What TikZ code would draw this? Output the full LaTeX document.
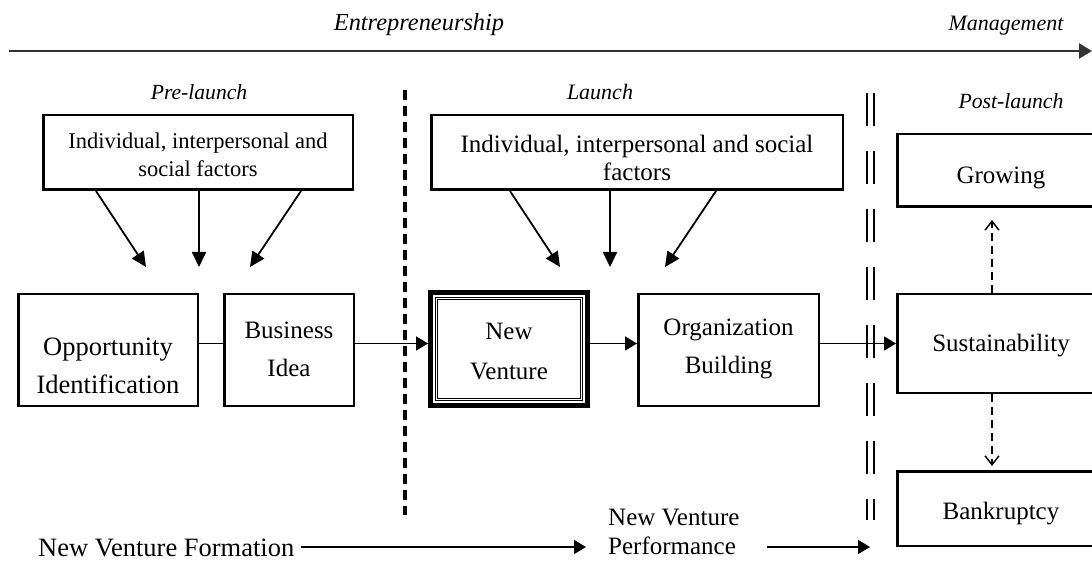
\documentclass[tikz,border=0pt]{standalone}
\usepackage{fontspec}
\setmainfont{Liberation Serif}
\usetikzlibrary{arrows.meta,calc}
\begin{document}
\begin{tikzpicture}[x=1pt,y=-1pt,
  box/.style={draw,line width=2.5pt,inner sep=0pt,align=center,font=\fontsize{25}{38}\selectfont},
  lbl/.style={inner sep=0pt,align=center,font=\fontsize{25}{38}\selectfont},
  ital/.style={inner sep=0pt,font=\itshape\fontsize{22}{26}\selectfont},
  farr/.style={line width=1.8pt,-{Triangle[length=15pt,width=14pt]}},
  harr/.style={line width=1.8pt,-{Triangle[length=12pt,width=14pt]}},
  darr/.style={line width=1.5pt,dash pattern=on 8pt off 5pt,-{Straight Barb[length=9pt,width=14pt,line width=1.5pt]}},
]
\useasboundingbox (0,0) rectangle (1092,561);
\clip (0,0) rectangle (1092,561);

% top timeline
\coordinate (tl0) at (9,51);
\coordinate (tl1) at (1092,51);
\draw[line width=2.2pt,black!80,-{Triangle[length=13pt,width=15pt]}] (tl0) -- (tl1);
\node[ital,font=\itshape\fontsize{24.4}{28}\selectfont] (ent) at (419,25) {Entrepreneurship};
\node[ital] (mgt) at (1006,26) {Management};

% phase labels
\node[ital,font=\itshape\fontsize{21.6}{26}\selectfont] (pre) at (199,92) {Pre-launch};
\node[ital] (lau) at (600,92) {Launch};
\node[ital,font=\itshape\fontsize{21.7}{26}\selectfont] (post) at (1011,101) {Post-launch};

% separators
\draw[line width=3.5pt,dash pattern=on 10pt off 6pt] (405,90) -- (405,515);
\draw[line width=2pt,dash pattern=on 33pt off 25pt] (867,93) -- (867,520);
\draw[line width=2pt,dash pattern=on 33pt off 25pt] (874,93) -- (874,520);

% factor boxes
\node[box,minimum width=309.5pt,minimum height=74.5pt] (pf) at (198,152.5) {};
\node[lbl,font=\fontsize{22.5}{28}\selectfont] (pft) at (198,155) {Individual, interpersonal and\\social factors};
\node[box,minimum width=411.5pt,minimum height=74.5pt] (lf) at (637,152.5) {};
\node[lbl,font=\fontsize{25}{28}\selectfont] (lft) at (637,158) {Individual, interpersonal and social\\factors};

% main row
\node[box,minimum width=179.5pt,minimum height=111.5pt] (opp) at (108,350) {};
\node[lbl,font=\fontsize{26.5}{38}\selectfont] (oppt) at (108,366) {Opportunity\\Identification};
\node[box,minimum width=129.5pt,minimum height=111.5pt] (bi) at (289,350) {};
\node[lbl] (bit) at (289,349) {Business\\Idea};
\node[box,line width=5pt,minimum width=157pt,minimum height=113pt] (nv) at (509,349) {};
\node[lbl,font=\fontsize{25}{40}\selectfont] (nvt) at (509,352) {New\\Venture};
\node[box,minimum width=180.5pt,minimum height=111.5pt] (ob) at (728.5,350) {};
\node[lbl] (obt) at (728.5,349) {Organization\\Building};
\node[box,minimum width=207.5pt,minimum height=98.5pt] (sus) at (1001,343.5) {};
\node[lbl] (sust) at (1001,346) {Sustainability};
\node[box,minimum width=207.5pt,minimum height=72.5pt] (grow) at (1001,170.5) {};
\node[lbl] (growt) at (1001,178) {Growing};
\node[box,minimum width=207.5pt,minimum height=74.5pt] (bank) at (1001,508.5) {};
\node[lbl] (bankt) at (1001,514) {Bankruptcy};

% inner border of New Venture
\draw[line width=0.7pt,double,double distance=1.2pt]
  ($(nv.north west)+(8.5,8.5)$) rectangle ($(nv.south east)+(-8.5,-8.5)$);

% factor arrows
\coordinate (p1) at (146,267);
\coordinate (p2) at (199,267);
\coordinate (p3) at (250,267);
\draw[farr] (pf.south -| 96,0) -- (p1);
\draw[farr] (pf.south -| 199,0) -- (p2);
\draw[farr] (pf.south -| 301,0) -- (p3);
\coordinate (l1) at (560,267);
\coordinate (l2) at (610,267);
\coordinate (l3) at (665,267);
\draw[farr] (lf.south -| 510,0) -- (l1);
\draw[farr] (lf.south -| 610,0) -- (l2);
\draw[farr] (lf.south -| 716,0) -- (l3);

% main row connectors
\draw[line width=1.8pt] (opp.east |- sus.west) -- (bi.west |- sus.west);
\draw[harr] (bi.east |- sus.west) -- (nv.west |- sus.west);
\draw[harr] (nv.east |- sus.west) -- (ob.west |- sus.west);
\draw[harr] (ob.east |- sus.west) -- (sus.west);
\draw[darr,shorten >=12pt] (sus.north -| 992,0) -- (grow.south -| 992,0);
\draw[darr,shorten >=4pt] (sus.south -| 992,0) -- (bank.north -| 992,0);

% bottom row
\node[lbl,font=\fontsize{26.5}{30}\selectfont,anchor=west] (nvf) at (38,548) {New Venture Formation};
\node[lbl,font=\fontsize{25}{29}\selectfont,align=left,anchor=west] (nvp) at (608,532) {New Venture\\Performance};
\coordinate (f1) at (586,547);
\coordinate (g0) at (767,547);
\coordinate (g1) at (870,547);
\draw[harr] ([xshift=6pt]nvf.east |- f1) -- (f1);
\draw[harr] (g0) -- (g1);
\end{tikzpicture}
\end{document}
